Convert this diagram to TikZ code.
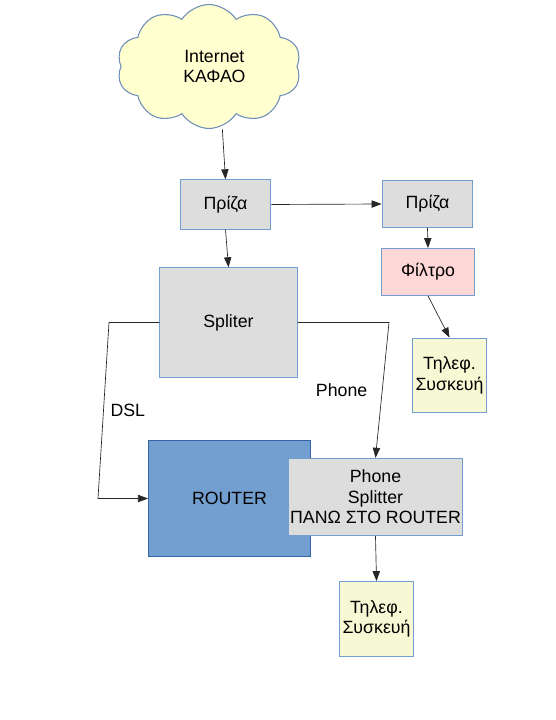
\documentclass[tikz,border=0pt]{standalone}
\usepackage{fontspec}
\setmainfont{Liberation Sans}
\usetikzlibrary{shapes.symbols,arrows.meta}

\definecolor{boxgray}{HTML}{DDDDDD}
\definecolor{boxline}{HTML}{729FCF}
\definecolor{routerline}{HTML}{3465A4}
\definecolor{filterpink}{HTML}{FFD7D7}
\definecolor{phoneyellow}{HTML}{F6F9D4}
\definecolor{cloudfill}{HTML}{FFFFD0}
\definecolor{cloudline}{HTML}{6E8FB8}

\begin{document}
\begin{tikzpicture}[
  x=0.75pt, y=-0.75pt,
  txt/.style={font=\fontsize{13.3}{15.3}\selectfont, align=center, inner sep=0pt},
  box/.style={txt, draw=boxline, fill=boxgray, line width=0.8pt},
  phonebox/.style={box, fill=phoneyellow, minimum width=56pt, minimum height=56pt},
  wire/.style={-{Triangle[length=7.5pt,width=5.5pt]}, line width=0.5pt, draw=black!85}
]
\useasboundingbox (0,0) rectangle (556,720);

\node[txt, cloud, cloud puffs=10, cloud puff arc=115, cloud ignores aspect,
      draw=cloudline, fill=cloudfill, line width=0.8pt,
      minimum width=138pt, minimum height=93pt] (net) at (209,66.5) {\hspace*{8pt}Internet\\\hspace*{8pt}ΚΑΦΑΟ};

\node[box, minimum width=68pt, minimum height=37pt] (prz1) at (225.5,204.5) {Πρίζα};
\node[box, minimum width=68pt, minimum height=35pt] (prz2) at (427.5,204) {Πρίζα};
\node[box, fill=filterpink, minimum width=70pt, minimum height=35pt] (filt) at (428,272) {Φίλτρο};
\node[phonebox] (tel1) at (449.5,375.5) {Τηλεφ.\\Συσκευή};
\node[box, minimum width=103pt, minimum height=82pt] (split) at (228.5,322.5) {Spliter};
\node[box, fill=boxline, draw=routerline, minimum width=121.5pt, minimum height=87pt] (router) at (229.5,498.5) {ROUTER};
\node[box, minimum width=130pt, minimum height=58pt] (psplit) at (375.5,497) {Phone\\Splitter\\ΠΑΝΩ ΣΤΟ ROUTER};
\node[phonebox] (tel2) at (376.5,619) {Τηλεφ.\\Συσκευή};

\coordinate (dslA) at (109,322.5);
\coordinate (dslB) at (98,498.5);
\coordinate (phA) at (389,322.5);

\draw[wire] ([xshift=10pt]net.south) -- (prz1.north);
\draw[wire] (prz1.east) -- (prz2.west);
\draw[wire] (prz1.south) -- (split.north);
\draw[wire] (prz2.south) -- (filt.north);
\draw[wire] (filt.south) -- (tel1.north);
\draw[wire] (split.west) -- (dslA) -- node[txt, right=5pt]{DSL} (dslB) -- (router.west);
\draw[wire] (split.east) -- (phA) -- node[txt, left=11pt]{Phone} (psplit.north);
\draw[wire] (psplit.south) -- (tel2.north);
\end{tikzpicture}
\end{document}
